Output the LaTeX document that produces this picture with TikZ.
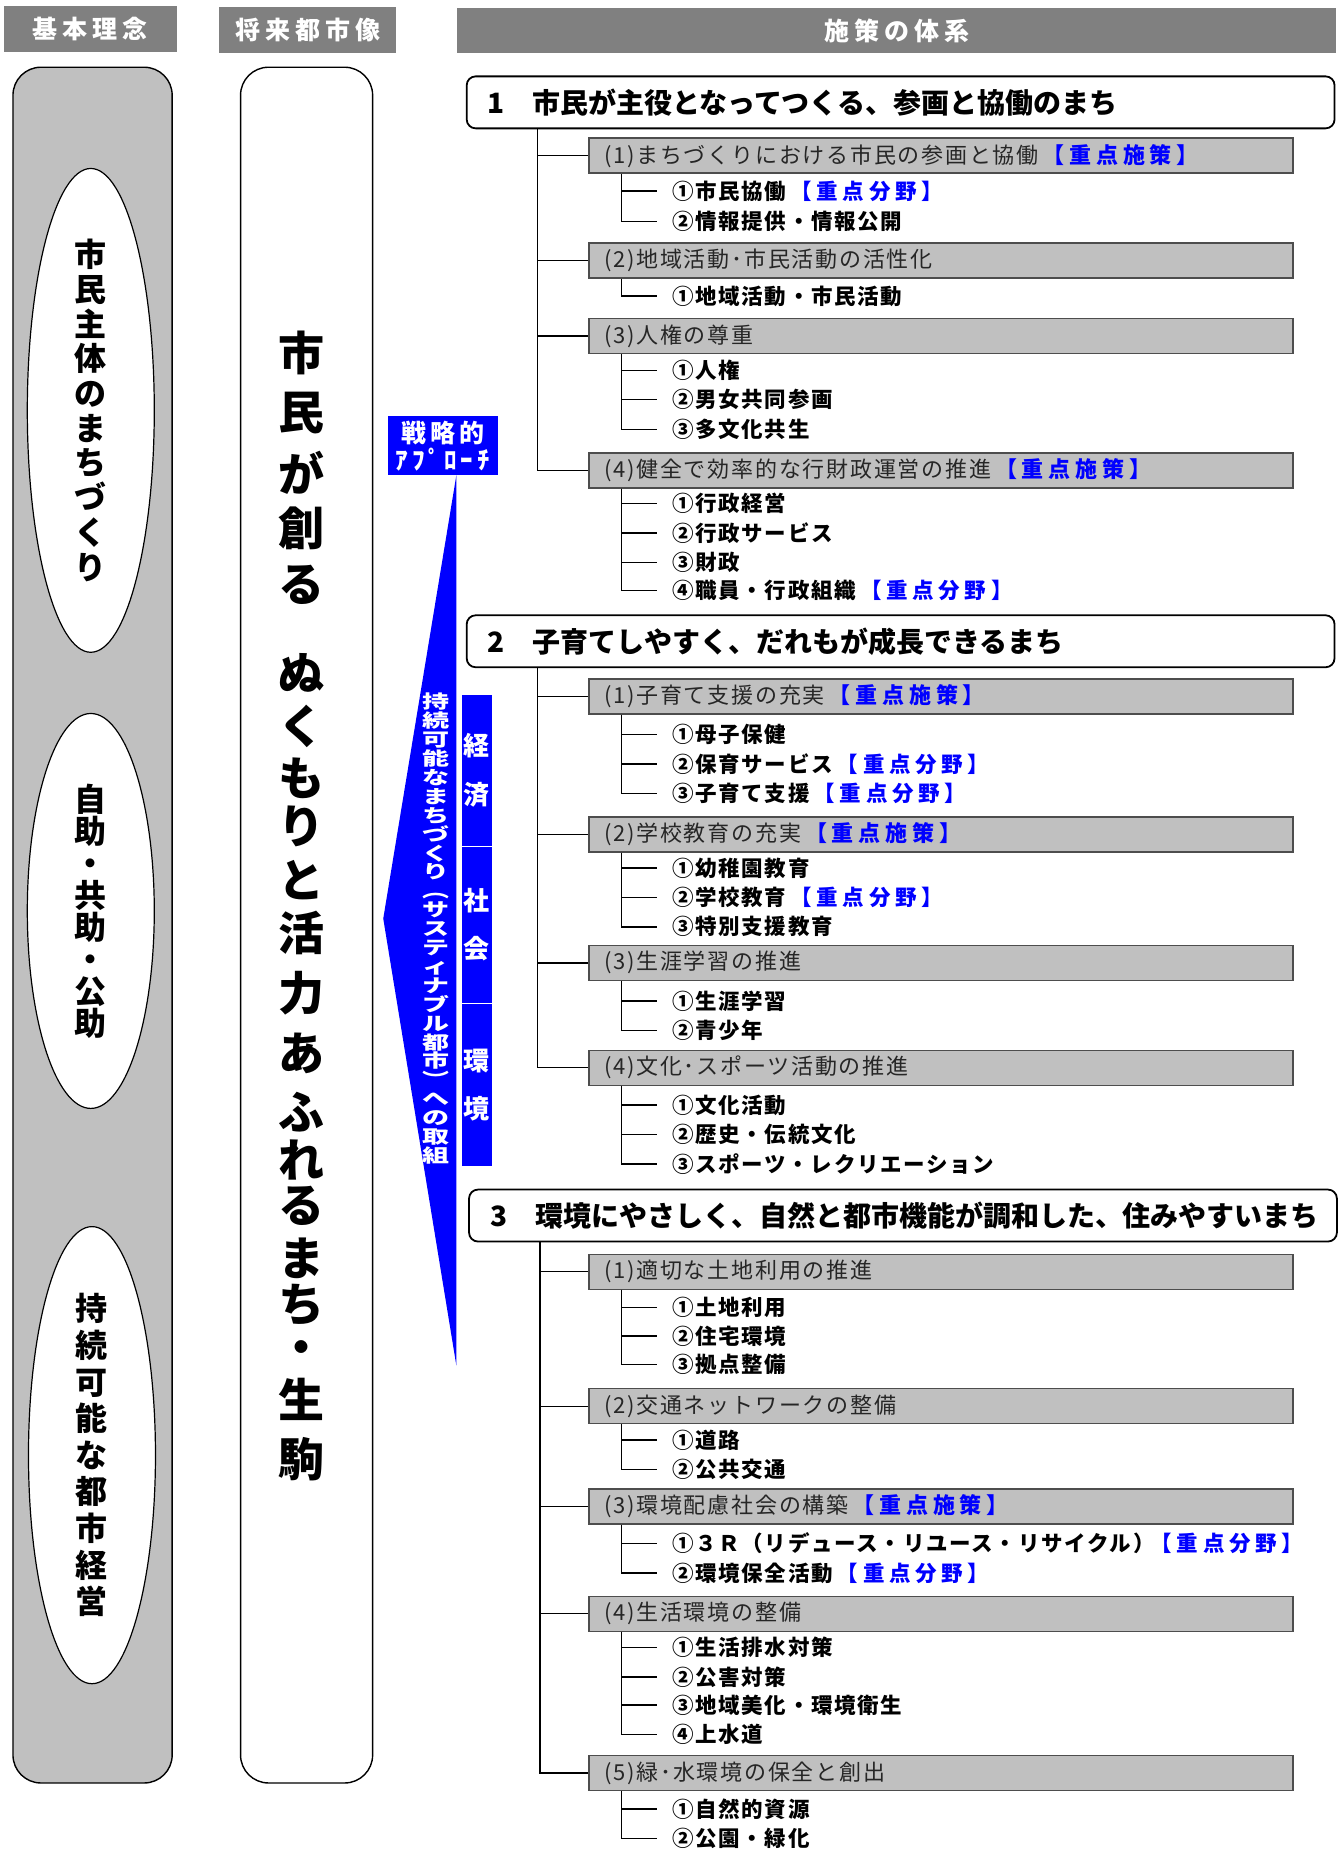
\documentclass[tikz,border=0pt]{standalone}
\usepackage{fontspec}
\setmainfont{Noto Sans CJK JP}
\newfontfamily\jpsp[LetterSpace=8]{Noto Sans CJK JP}
\newfontfamily\jpmid[LetterSpace=15]{Noto Sans CJK JP}
\newfontfamily\jphd[LetterSpace=20]{Noto Sans CJK JP}
\newfontfamily\jpwide[LetterSpace=22]{Noto Sans CJK JP}
\usetikzlibrary{shapes.geometric}
\definecolor{hdgray}{HTML}{808080}
\definecolor{boxgray}{HTML}{C0C0C0}
\definecolor{linegray}{HTML}{4D4D4D}
\newcommand{\jyuten}[1]{\hspace{4pt}{\color{blue}\jpwide\bfseries 【重点#1】}}

\begin{document}
\begin{tikzpicture}[x=1.1794pt,y=-1.1794pt,
  header/.style={fill=hdgray,text=white,inner sep=0pt,font=\jphd\bfseries\fontsize{25}{28}\selectfont},
  idea/.style={ellipse,draw,line width=1.2pt,fill=white,minimum width=127pt,inner sep=0pt,align=center},
  bigchar/.style={inner sep=0pt,font=\bfseries\fontsize{46}{50}\selectfont},
  strip/.style={fill=blue,draw=white,line width=0.8pt,text=white,minimum width=31pt,inner sep=0pt,align=center,font=\bfseries\fontsize{26}{48.5}\selectfont},
  policy/.style={draw,line width=1.8pt,rounded corners=9pt,fill=white,anchor=north west,minimum height=52pt,text width=826pt,inner xsep=21pt,inner ysep=0pt,align=left,font=\bfseries\fontsize{28}{32}\selectfont},
  measure/.style={draw=linegray,line width=1.4pt,fill=boxgray,anchor=west,minimum height=35pt,text width=674pt,inner xsep=15pt,inner ysep=0pt,align=left,text=black!85,font=\jpsp\fontsize{22}{26}\selectfont},
  item/.style={anchor=west,inner xsep=15pt,inner ysep=1pt,font=\jpsp\bfseries\fontsize{21.5}{24}\selectfont},
  branch/.style={line width=1.4pt}]
\useasboundingbox (0,0) rectangle (1137,1568);

\node[header,minimum width=173pt,minimum height=46pt] (hd1) at (76.5,24.5) {基本理念};
\node[header,minimum width=177pt,minimum height=46pt] (hd2) at (261,25.5) {将来都市像};
\node[header,minimum width=879pt,minimum height=45pt] (hd3) at (760.5,26) {施策の体系};

\draw[line width=1.4pt,fill=boxgray,rounded corners=28pt] (11,57) rectangle (146,1512);
\draw[line width=1.4pt,fill=white,rounded corners=28pt] (204,57) rectangle (316,1512);

\node[idea,minimum height=396pt,font=\bfseries\fontsize{32}{34.7}\selectfont] (idea1) at (77,348) {市\\民\\主\\体\\の\\ま\\ち\\づ\\く\\り};
\node[idea,minimum height=395pt,font=\bfseries\fontsize{32}{32}\selectfont] (idea2) at (77,772.5) {自\\助\\・\\共\\助\\・\\公\\助};
\node[idea,minimum height=389pt,font=\bfseries\fontsize{32}{36.6}\selectfont] (idea3) at (78,1234) {持\\続\\可\\能\\な\\都\\市\\経\\営};

\foreach \ch/\yy [count=\k] in {市/299,民/350,が/401,創/448,る/496,ぬ/571,く/616,も/660,り/701,と/746,活/791,力/842,あ/893,ふ/943,れ/984,る/1023,ま/1067,ち/1107,・/1147,生/1187,駒/1237}
  \node[bigchar] (vis\k) at (256,\yy) {\ch};

\node[fill=blue,text=white,minimum width=110pt,minimum height=59pt,inner sep=0pt,align=center,font=\jpmid\bfseries\fontsize{25}{27}\selectfont] (senryaku) at (375.5,378) {戦略的\\ｱﾌﾟﾛｰﾁ};
\fill[blue] (387,403) -- (325,779) -- (387,1158) -- cycle;
\node[text=white,inner sep=0pt,font=\bfseries\fontsize{27}{27.8}\selectfont] (torikumi) at (370,787.5) {\scalebox{1}[0.68]{\parbox{32pt}{\centering\lineskiplimit=-100pt 持\\続\\可\\能\\な\\ま\\ち\\づ\\く\\り\\︵\\サ\\ス\\テ\\ィ\\ナ\\ブ\\ル\\都\\市\\︶\\へ\\の\\取\\組}}};
\node[strip,minimum height=152pt] (keizai) at (404,653) {経\\済};
\node[strip,minimum height=157pt] (shakai) at (404,784) {社\\会};
\node[strip,minimum height=164pt] (kankyo) at (404,920) {環\\境};

\node[policy] (t1) at (395,64) {1　市民が主役となってつくる、参画と協働のまち};
\node[measure] (a1) at (499,132) {(1)まちづくりにおける市民の参画と協働\jyuten{施策}};
\node[item] (a11) at (557,162) {①市民協働\jyuten{分野}};
\node[item] (a12) at (557,188) {②情報提供・情報公開};
\node[measure] (a2) at (499,221) {(2)地域活動･市民活動の活性化};
\node[item] (a21) at (557,251) {①地域活動・市民活動};
\node[measure] (a3) at (499,285) {(3)人権の尊重};
\node[item] (a31) at (557,314) {①人権};
\node[item] (a32) at (557,339) {②男女共同参画};
\node[item] (a33) at (557,364) {③多文化共生};
\node[measure] (a4) at (499,399) {(4)健全で効率的な行財政運営の推進\jyuten{施策}};
\node[item] (a41) at (557,427) {①行政経営};
\node[item] (a42) at (557,452) {②行政サービス};
\node[item] (a43) at (557,477) {③財政};
\node[item] (a44) at (557,501) {④職員・行政組織\jyuten{分野}};

\node[policy] (t2) at (395,521) {2　子育てしやすく、だれもが成長できるまち};
\node[measure] (b1) at (499,590.5) {(1)子育て支援の充実\jyuten{施策}};
\node[item] (b11) at (557,623) {①母子保健};
\node[item] (b12) at (557,648) {②保育サービス\jyuten{分野}};
\node[item] (b13) at (557,673) {③子育て支援\jyuten{分野}};
\node[measure] (b2) at (499,707.5) {(2)学校教育の充実\jyuten{施策}};
\node[item] (b21) at (557,736) {①幼稚園教育};
\node[item] (b22) at (557,761) {②学校教育\jyuten{分野}};
\node[item] (b23) at (557,786) {③特別支援教育};
\node[measure] (b3) at (499,816.5) {(3)生涯学習の推進};
\node[item] (b31) at (557,849) {①生涯学習};
\node[item] (b32) at (557,874) {②青少年};
\node[measure] (b4) at (499,905.5) {(4)文化･スポーツ活動の推進};
\node[item] (b41) at (557,937) {①文化活動};
\node[item] (b42) at (557,962) {②歴史・伝統文化};
\node[item] (b43) at (557,987) {③スポーツ・レクリエーション};

\node[policy] (t3) at (397,1008) {3　環境にやさしく、自然と都市機能が調和した、住みやすいまち};
\node[measure] (c1) at (499,1078.5) {(1)適切な土地利用の推進};
\node[item] (c11) at (557,1109) {①土地利用};
\node[item] (c12) at (557,1133) {②住宅環境};
\node[item] (c13) at (557,1157) {③拠点整備};
\node[measure] (c2) at (499,1192.5) {(2)交通ネットワークの整備};
\node[item] (c21) at (557,1221) {①道路};
\node[item] (c22) at (557,1246) {②公共交通};
\node[measure] (c3) at (499,1277.5) {(3)環境配慮社会の構築\jyuten{施策}};
\node[item] (c31) at (557,1309) {①３Ｒ（リデュース・リユース・リサイクル）\hspace{-8pt}\jyuten{分野}};
\node[item] (c32) at (557,1334) {②環境保全活動\jyuten{分野}};
\node[measure] (c4) at (499,1368.5) {(4)生活環境の整備};
\node[item] (c41) at (557,1397) {①生活排水対策};
\node[item] (c42) at (557,1422) {②公害対策};
\node[item] (c43) at (557,1446) {③地域美化・環境衛生};
\node[item] (c44) at (557,1471) {④上水道};
\node[measure] (c5) at (499,1503.5) {(5)緑･水環境の保全と創出};
\node[item] (c51) at (557,1534) {①自然的資源};
\node[item] (c52) at (557,1559) {②公園・緑化};

\foreach \p/\c in {t1/a1,t1/a2,t1/a3,t1/a4,t2/b1,t2/b2,t2/b3,t2/b4,t3/c1,t3/c2,t3/c3,t3/c4,t3/c5}
  \draw[branch] (\p.south west) ++(61,0) |- (\c.west);
\foreach \p/\c in {a1/a11,a1/a12,a2/a21,a3/a31,a3/a32,a3/a33,a4/a41,a4/a42,a4/a43,a4/a44,
  b1/b11,b1/b12,b1/b13,b2/b21,b2/b22,b2/b23,b3/b31,b3/b32,b4/b41,b4/b42,b4/b43,
  c1/c11,c1/c12,c1/c13,c2/c21,c2/c22,c3/c31,c3/c32,c4/c41,c4/c42,c4/c43,c4/c44,c5/c51,c5/c52}
  \draw[branch] (\p.south west) ++(28,0) |- (\c.west);
\end{tikzpicture}
\end{document}
